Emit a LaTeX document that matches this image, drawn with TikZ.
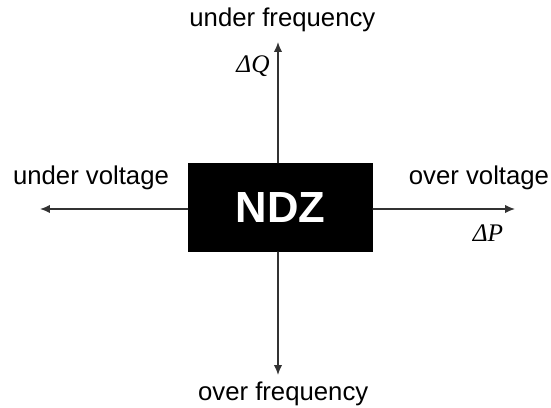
\documentclass[tikz,border=0pt]{standalone}
\usepackage{fontspec}
\setmainfont{Liberation Sans}
\newfontfamily\qtyfont{Liberation Serif}
\usetikzlibrary{arrows.meta,positioning}

\begin{document}
\begin{tikzpicture}[
  line cap=round,
  line join=round,
  >={Latex[length=7pt,width=6pt]},
  axis/.style={draw=black!80,line width=1.1pt,->},
  lbl/.style={font=\fontsize{18.3}{22}\selectfont,inner sep=0pt},
  qty/.style={font=\fontsize{18}{22}\qtyfont\itshape,inner sep=0pt}
]
\useasboundingbox (-6.95,-4.975) rectangle (6.825,5.225);

% the non-detection zone
\node[fill=black,minimum width=4.62cm,minimum height=2.22cm,inner sep=0pt,
  text=white,font=\fontsize{31}{36}\selectfont\bfseries] (ndz) at (0.06,0.04) {NDZ};

% axis ends
\coordinate (top) at (0,4.175);
\coordinate (bot) at (0,-4.15);
\coordinate (lft) at (-5.95,0);
\coordinate (rgt) at (5.925,0);

\draw[axis] (ndz.north -| top) -- (top);
\draw[axis] (ndz.south -| bot) -- (bot);
\draw[axis] (ndz.west |- lft) -- (lft);
\draw[axis] (ndz.east |- rgt) -- (rgt);

% labels
\node[lbl] (uf) at (0.11,4.725) {under frequency};
\node[lbl] (of) at (0.13,-4.625) {over frequency};
\node[lbl] (uv) at (-4.675,0.775) {under voltage};
\node[lbl] (ov) at (5.025,0.775) {over voltage};
\node[qty] (dq) at (-0.625,3.575) {ΔQ};
\node[qty] (dp) at (5.25,-0.6) {ΔP};

\end{tikzpicture}
\end{document}
